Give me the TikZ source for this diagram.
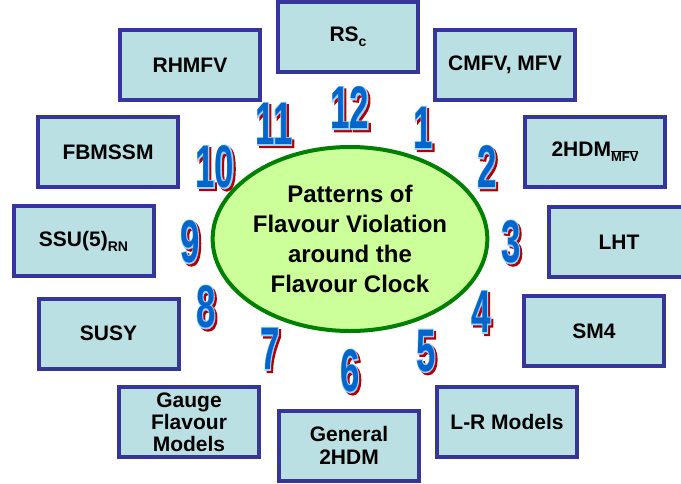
\documentclass[tikz,border=0pt]{standalone}
\usepackage{fontspec}
\setmainfont{Liberation Sans}
\newfontface\numfaceol[FakeBold=4.5]{Liberation Sans Bold}
\newfontface\numfacein{Liberation Sans Bold}
\usetikzlibrary{shapes.geometric,calc}
\definecolor{boxfill}{HTML}{BAE0E4}
\definecolor{boxline}{HTML}{36369A}
\definecolor{ellfill}{HTML}{CCFF99}
\definecolor{ellline}{HTML}{008000}
\newcommand\numsize{\fontsize{60}{60}\selectfont}
\newcommand\cnumfg[1]{\special{pdf:bcolor [0.0 0.40 0.80] [0.0 0.40 0.80]}{\numfacein\numsize #1}\special{pdf:ecolor}}
\newcommand\cnumol[1]{\special{pdf:bcolor [0.60 0.82 1] [0.60 0.82 1]}{\numfaceol\numsize #1}\special{pdf:ecolor}}
\newcommand\cnumbg[1]{\special{pdf:bcolor [0.70 0 0] [0.70 0 0]}{\numfaceol\numsize #1}\special{pdf:ecolor}}
\newcommand\cnum[1]{\scalebox{0.58}[1]{\rlap{\hspace{3.6pt}\raisebox{-2.2pt}{\cnumbg{#1}}}\rlap{\cnumol{#1}}\cnumfg{#1}}}
\newcommand\clocknum[3]{\node[numtxt] (#1) at (#2) {\cnum{#3}};}
\newcommand\subsc[1]{\raisebox{-5pt}{\fontsize{14}{14}\selectfont #1}}
\tikzset{
  modelbox/.style={draw=boxline, line width=4pt, fill=boxfill, minimum width=140pt,
    minimum height=70pt, inner sep=0pt, align=center,
    font=\fontsize{21}{23}\selectfont\bfseries},
  numtxt/.style={inner sep=0pt},
  clockface/.style={ellipse, draw=ellline, line width=4pt, fill=ellfill,
    minimum width=250pt, minimum height=184pt, inner sep=0pt, align=center,
    font=\fontsize{24}{30}\selectfont\bfseries}
}
\begin{document}
\begin{tikzpicture}[x=1pt,y=-1pt]
\useasboundingbox (0,0) rectangle (681,483);
\clip (0,0) rectangle (681,483);
% boxes
\node[modelbox] (rsc)   at (348,37)    {RS\subsc{c}};
\node[modelbox] (rhmfv) at (190,65)    {RHMFV};
\node[modelbox] (cmfv)  at (505,65)    {CMFV, MFV};
\node[modelbox] (fbm)   at (108,152)   {FBMSSM};
\node[modelbox] (thdm)  at (595,152)   {2HDM\raisebox{-5pt}{\fontsize{13}{13}\selectfont$\overline{\hbox{MFV}}$}};
\node[modelbox] (ssu)   at (83.5,241)  {SSU(5)\subsc{RN}};
\node[modelbox] (lht)   at (619,242)   {LHT};
\node[modelbox] (susy)  at (108.5,333.5) {SUSY};
\node[modelbox] (sm4)   at (594,331)   {SM4};
\node[modelbox, font=\fontsize{21}{22}\selectfont\bfseries] (gauge) at (189,422) {Gauge\\Flavour\\Models};
\node[modelbox] (gen)   at (349,445.5) {General\\2HDM};
\node[modelbox] (lr)    at (507,422)   {L-R Models};
% clock face
\node[clockface] (face) at (350,239) {Patterns of\\Flavour Violation\\around the\\Flavour Clock};
% numbers
\clocknum{n12}{350,109}{12}
\clocknum{n11}{274,125}{11}
\clocknum{n1}{423,129}{1}
\clocknum{n10}{215,168}{10}
\clocknum{n2}{487,168}{2}
\clocknum{n9}{190,243}{9}
\clocknum{n3}{511,243}{3}
\clocknum{n8}{206,308}{8}
\clocknum{n4}{481,313}{4}
\clocknum{n7}{270,350}{7}
\clocknum{n6}{350,372}{6}
\clocknum{n5}{426,352}{5}
\end{tikzpicture}
\end{document}
